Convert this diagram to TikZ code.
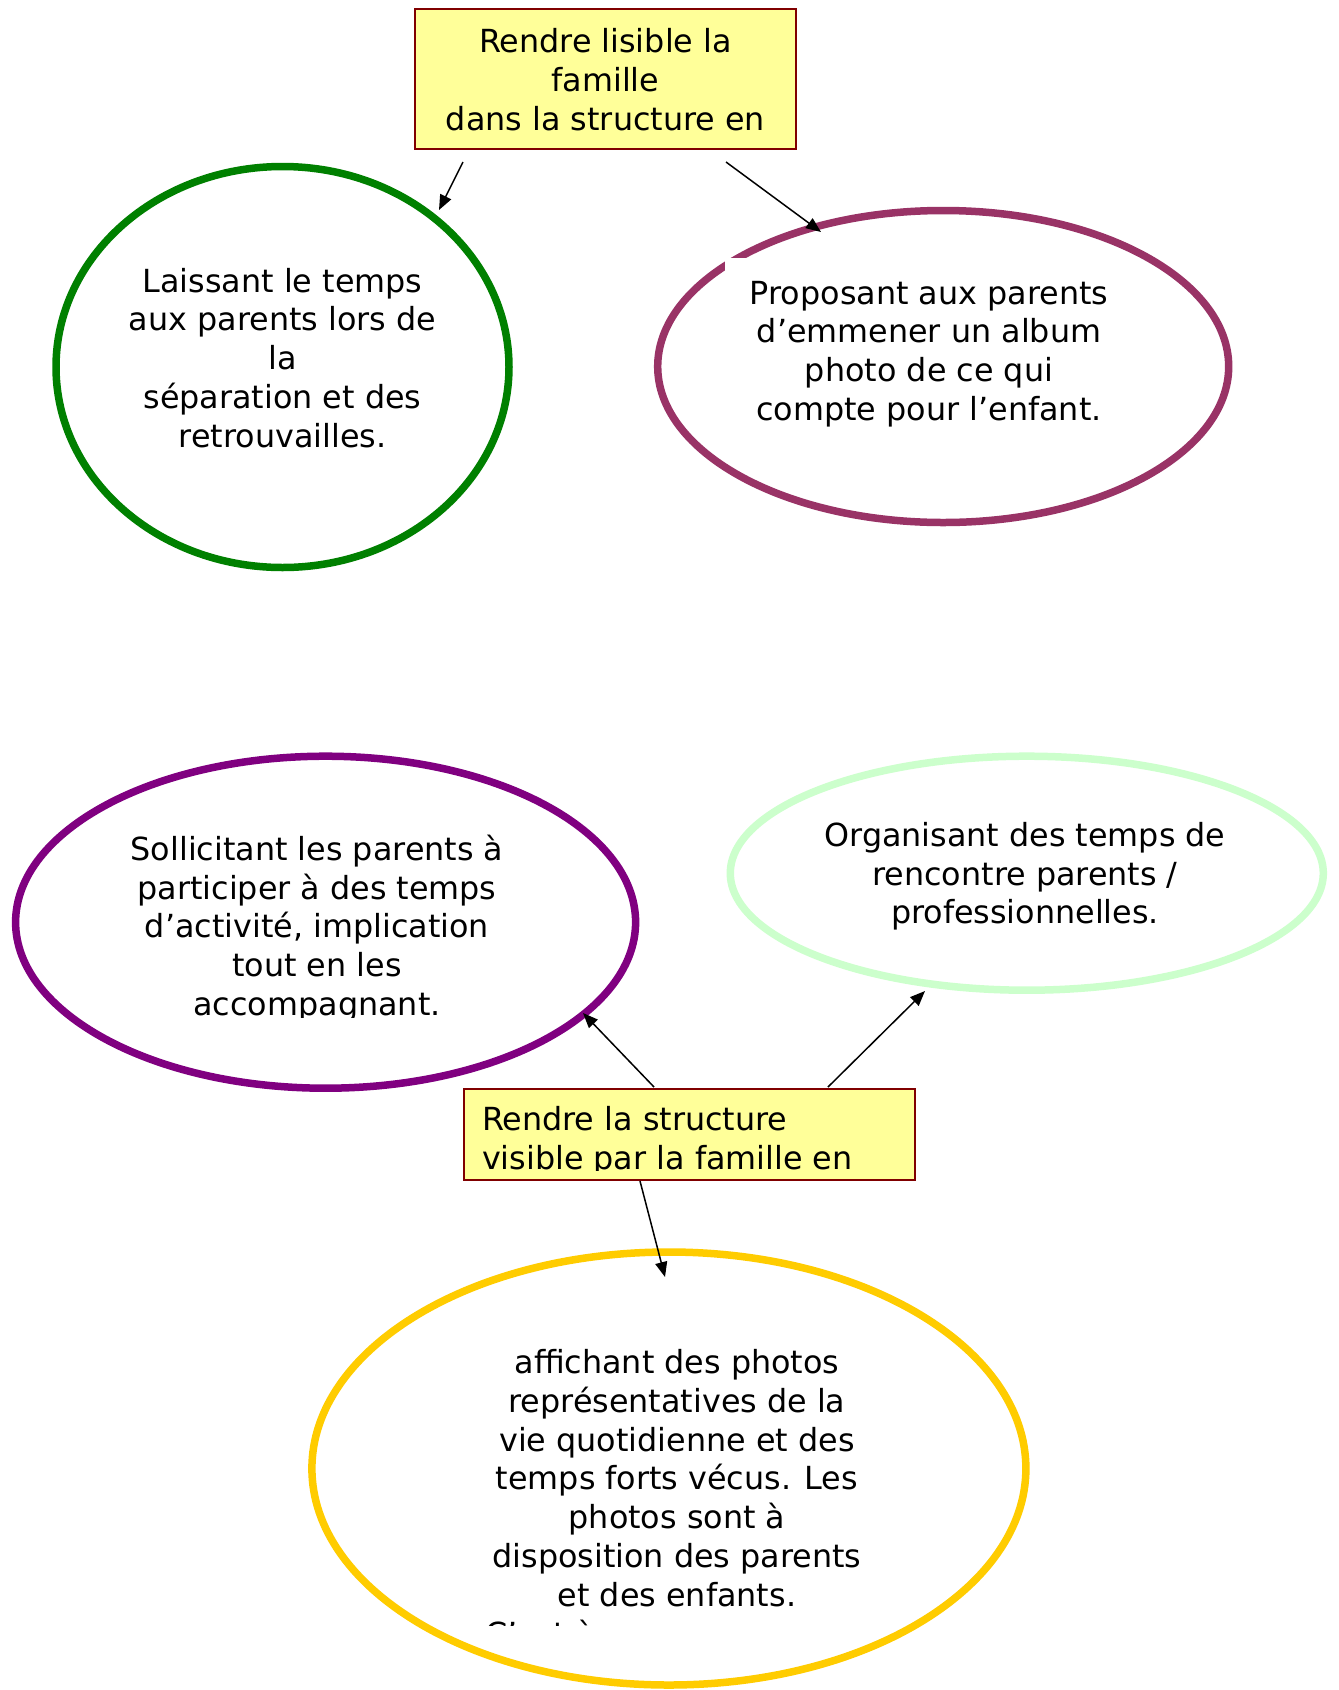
\documentclass[tikz,border=0pt]{standalone}
\usepackage{fontspec}
\setmainfont{DejaVu Sans}
\usetikzlibrary{arrows.meta,shapes.geometric}
\definecolor{cgreen}{HTML}{008000}
\definecolor{cwine}{HTML}{993366}
\definecolor{cpurple}{HTML}{800080}
\definecolor{clight}{HTML}{CCFFCC}
\definecolor{cgold}{HTML}{FFCC00}
\definecolor{boxfill}{HTML}{FFFF99}
\definecolor{boxline}{HTML}{800000}
\begin{document}
\begin{tikzpicture}[x=1pt,y=-1pt,
  txt/.style={font=\fontsize{31.8}{38.8}\selectfont, inner sep=0pt, outer sep=0pt, align=center, anchor=base},
  ltxt/.style={font=\fontsize{31.8}{38.8}\selectfont, inner sep=0pt, outer sep=0pt, align=left, anchor=base west},
  oval/.style={ellipse, draw, line width=7.5pt, inner sep=0pt, outer sep=0pt},
  conn/.style={-{Triangle[length=15pt,width=12pt]}, line width=1.5pt},
  ybox/.style={draw=boxline, fill=boxfill, line width=2pt, inner sep=0pt}]
\useasboundingbox[fill=white] (0,0) rectangle (1339,1690);

% ellipses
\node[oval, draw=cgreen, minimum width=453pt, minimum height=401pt] (eg) at (282.5,367) {};
\node[oval, draw=cwine, minimum width=571pt, minimum height=312pt] (ew) at (943.2,366.5) {};
\fill[white] (725,258) rectangle (1133,440);
\node[oval, draw=cpurple, minimum width=620pt, minimum height=332pt] (ep) at (325.6,922.2) {};
\node[oval, draw=clight, minimum width=593pt, minimum height=234pt] (el) at (1026.8,873.2) {};
\node[oval, draw=cgold, minimum width=714pt, minimum height=433pt] (ey) at (668.9,1468.5) {};

% boxes
\node[ybox, minimum width=381pt, minimum height=140pt] (top) at (605.5,79) {};
\node[ybox, minimum width=451pt, minimum height=91pt] (bot) at (689.5,1134.5) {};

% texts (anchored at the baseline of the last line)
\node[txt] (ttop) at (605.5,130.3) {Rendre lisible la\\famille\\dans la structure en};
\begin{scope}
\clip (463,1088) rectangle (916,1170);
\node[ltxt] (tbot) at (482,1169.3) {Rendre la structure\\visible par la famille en};
\end{scope}
\node[txt] (tg) at (282.5,447.3) {Laissant le temps\\aux parents lors de\\la\\séparation et des\\retrouvailles.};
\node[txt] (tw) at (929,420.4) {Proposant aux parents\\d’emmener un album\\photo de ce qui\\compte pour l’enfant.};
\begin{scope}
\clip (0,800) rectangle (700,1017);
\node[txt] (tp) at (317,1015.4) {Sollicitant les parents à\\participer à des temps\\d’activité, implication\\tout en les\\accompagnant.};
\end{scope}
\node[txt] (tl) at (1025,923.8) {Organisant des temps de\\rencontre parents /\\professionnelles.};
\node[txt] (ty) at (677,1606.2) {affichant des photos\\représentatives de la\\vie quotidienne et des\\temps forts vécus. Les\\photos sont à\\disposition des parents\\et des enfants.};
\begin{scope}
\clip (400,1600) rectangle (950,1625.5);
\node[ltxt] (ty2) at (485.5,1645.5) {C’est à};
\end{scope}

% connectors
\coordinate (a1s) at (463,162); \coordinate (a1e) at (439,210);
\coordinate (a2s) at (726,162); \coordinate (a2e) at (821,232);
\coordinate (a3s) at (654,1087); \coordinate (a3e) at (583,1013);
\coordinate (a4s) at (828,1087); \coordinate (a4e) at (925,991);
\coordinate (a5s) at (640,1181); \coordinate (a5e) at (665,1277);
\draw[conn] (a1s) -- (a1e);
\draw[conn] (a2s) -- (a2e);
\draw[conn] (a3s) -- (a3e);
\draw[conn] (a4s) -- (a4e);
\draw[conn] (a5s) -- (a5e);
\end{tikzpicture}
\end{document}
